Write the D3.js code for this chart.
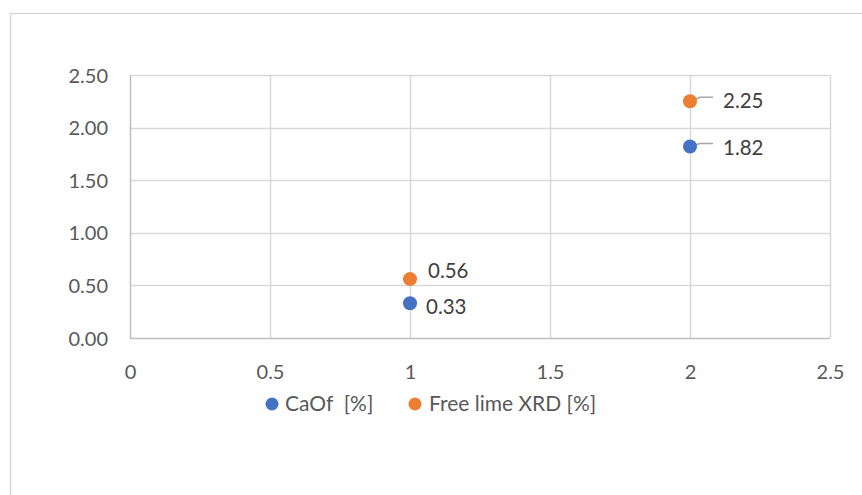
<!DOCTYPE html>
<html>
<head>
<meta charset="utf-8">
<script src="https://cdn.jsdelivr.net/npm/d3@7"></script>
<style>
  html, body { margin: 0; padding: 0; background: #fff; }
  svg { display: block; font-family: Lato, "Open Sans", sans-serif; }
</style>
</head>
<body>
<svg id="chart" width="862" height="495"></svg>
<script>
// Series data
const seriesNames = ["CaOf  [%]", "Free lime XRD [%]"];
const seriesColors = ["#4472C4", "#ED7D31"];
const xValues = [1, 2];
const caofValues = [0.33, 1.82];
const freeLimeValues = [0.56, 2.25];
const xTicks = [0, 0.5, 1, 1.5, 2, 2.5];
const yTicks = [0, 0.5, 1, 1.5, 2, 2.5];

const series = [
  { name: seriesNames[0], color: seriesColors[0], values: caofValues },
  { name: seriesNames[1], color: seriesColors[1], values: freeLimeValues }
];

const svg = d3.select("#chart");
const W = 862, H = 495;

// outer chart frame
svg.append("rect")
  .attr("x", 10.5).attr("y", 13.5)
  .attr("width", W + 20).attr("height", H + 20)
  .attr("fill", "#fff").attr("stroke", "#d9d9d9").attr("stroke-width", 1.5);

const plot = { left: 130, right: 830, top: 75, bottom: 338 };
const x = d3.scaleLinear().domain([0, 2.5]).range([plot.left, plot.right]);
const y = d3.scaleLinear().domain([0, 2.5]).range([plot.bottom, plot.top]);

// gridlines
const grid = svg.append("g");
grid.selectAll("line.h").data(yTicks).join("line")
  .attr("x1", plot.left).attr("x2", plot.right)
  .attr("y1", d => Math.round(y(d)) + 0.5).attr("y2", d => Math.round(y(d)) + 0.5)
  .attr("stroke", d => d === 0 ? "#bfbfbf" : "#d9d9d9").attr("stroke-width", 1.5);
grid.selectAll("line.v").data(xTicks).join("line")
  .attr("y1", plot.top).attr("y2", plot.bottom)
  .attr("x1", d => Math.round(x(d)) + 0.5).attr("x2", d => Math.round(x(d)) + 0.5)
  .attr("stroke", d => d === 0 ? "#bfbfbf" : "#d9d9d9").attr("stroke-width", 1.5);

// axes (labels only)
const xAxis = svg.append("g")
  .attr("transform", `translate(0,${plot.bottom})`)
  .call(d3.axisBottom(x).tickValues(xTicks).tickSize(0).tickPadding(22)
    .tickFormat(d => String(d)));
const yAxis = svg.append("g")
  .attr("transform", `translate(${plot.left},0)`)
  .call(d3.axisLeft(y).tickValues(yTicks).tickSize(0).tickPadding(22)
    .tickFormat(d3.format(".2f")));
[xAxis, yAxis].forEach(a => {
  a.select(".domain").remove();
  a.selectAll("text").attr("fill", "#595959").style("font-size", "20px")
    .style("font-family", "Lato, 'Open Sans', sans-serif");
});
xAxis.selectAll("text").attr("dy", "0.35em").attr("y", 34);
yAxis.selectAll("text").attr("dy", "0.35em");

// label placement relative to each point, keyed "pointIndex-seriesIndex"
const labelOffset = {
  "0-0": { dx: 16, dy: 4, leader: false },
  "0-1": { dx: 18, dy: -8, leader: false },
  "1-0": { dx: 33, dy: 1, leader: true },
  "1-1": { dx: 33, dy: 0, leader: true }
};

// leader lines
series.forEach((s, si) => {
  s.values.forEach((v, i) => {
    const o = labelOffset[i + "-" + si];
    if (!o.leader) return;
    const cx = x(xValues[i]), cy = y(v);
    const ly = cy + o.dy - 4;
    svg.append("path")
      .attr("d", `M${cx},${cy} L${cx + 10},${ly} L${cx + o.dx - 10},${ly}`)
      .attr("fill", "none").attr("stroke", "#a6a6a6").attr("stroke-width", 1.5);
  });
});

// points
series.forEach((s, si) => {
  svg.append("g").selectAll("circle")
    .data(s.values).join("circle")
    .attr("cx", (d, i) => x(xValues[i]))
    .attr("cy", d => y(d))
    .attr("r", 7)
    .attr("fill", s.color);
});

// data labels
series.forEach((s, si) => {
  svg.append("g").selectAll("text")
    .data(s.values).join("text")
    .attr("x", (d, i) => x(xValues[i]) + labelOffset[i + "-" + si].dx)
    .attr("y", (d, i) => y(d) + labelOffset[i + "-" + si].dy)
    .attr("dy", "0.35em")
    .attr("fill", "#404040")
    .style("font-size", "20.5px")
    .text(d => d3.format(".2f")(d));
});

// legend
const legend = svg.append("g");
const legendPos = [{ cx: 272, tx: 285 }, { cx: 415, tx: 429 }];
series.forEach((s, si) => {
  legend.append("circle")
    .attr("cx", legendPos[si].cx).attr("cy", 404).attr("r", 6.5)
    .attr("fill", s.color);
  legend.append("text")
    .attr("x", legendPos[si].tx).attr("y", 404).attr("dy", "0.35em")
    .attr("fill", "#595959").style("font-size", "21px")
    .style("white-space", "pre").attr("xml:space", "preserve")
    .text(s.name);
});
</script>
</body>
</html>
